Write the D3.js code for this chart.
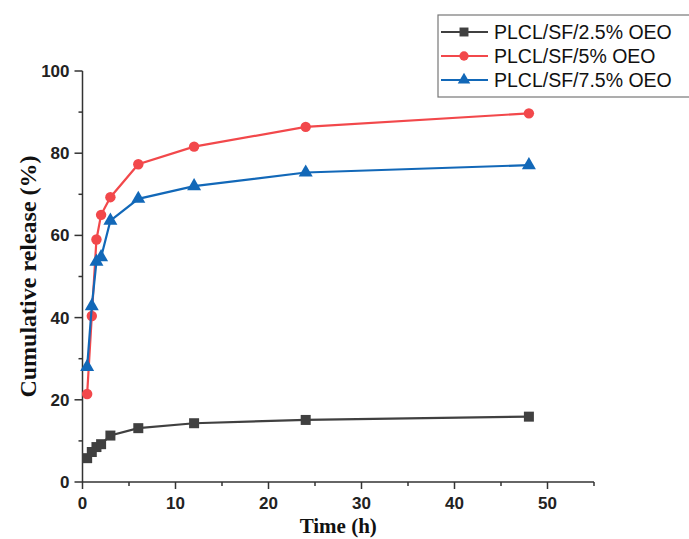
<!DOCTYPE html>
<html>
<head>
<meta charset="utf-8">
<script src="https://cdn.jsdelivr.net/npm/d3@7"></script>
<style>
  body { margin: 0; background: #fff; }
  svg { display: block; }
</style>
</head>
<body>
<div id="chart"></div>
<script>
const times = [0.5, 1, 1.5, 2, 3, 6, 12, 24, 48];
const oeo25 = [5.8, 7.3, 8.5, 9.2, 11.3, 13.1, 14.3, 15.1, 15.9];
const oeo5 = [21.4, 40.4, 59, 65, 69.3, 77.3, 81.6, 86.4, 89.7];
const oeo75 = [28, 42.8, 53.6, 54.7, 63.6, 68.9, 72, 75.3, 77.1];
const seriesNames = ["PLCL/SF/2.5% OEO", "PLCL/SF/5% OEO", "PLCL/SF/7.5% OEO"];
const xTicks = [0, 10, 20, 30, 40, 50];
const yTicks = [0, 20, 40, 60, 80, 100];

const W = 689, H = 539;
const svg = d3.select("#chart").append("svg").attr("width", W).attr("height", H);

const x = d3.scaleLinear().domain([0, 55]).range([82.5, 594]);
const y = d3.scaleLinear().domain([0, 100]).range([482, 71]);

const series = [
  { name: seriesNames[0], vals: oeo25, color: "#404040", shape: d3.symbolSquare, size: 100 },
  { name: seriesNames[1], vals: oeo5, color: "#f2484b", shape: d3.symbolCircle, size: 85 },
  { name: seriesNames[2], vals: oeo75, color: "#1268b8", shape: d3.symbolTriangle, size: 85 }
];

// axes
const xAxis = svg.append("g").attr("transform", `translate(0,${y(0)})`);
xAxis.append("line").attr("x1", x(0)).attr("x2", x(55)).attr("stroke", "#333").attr("stroke-width", 1.5);
xAxis.selectAll(".maj").data(xTicks).join("line")
  .attr("x1", d => x(d)).attr("x2", d => x(d)).attr("y1", 0).attr("y2", 7)
  .attr("stroke", "#333").attr("stroke-width", 1.5);
xAxis.selectAll(".min").data([5, 15, 25, 35, 45, 55]).join("line")
  .attr("x1", d => x(d)).attr("x2", d => x(d)).attr("y1", 0).attr("y2", 4)
  .attr("stroke", "#333").attr("stroke-width", 1.5);
xAxis.selectAll("text").data(xTicks).join("text")
  .attr("x", d => x(d)).attr("y", 27).attr("text-anchor", "middle")
  .attr("font-family", "Liberation Sans, Arial, sans-serif").attr("font-weight", "bold")
  .attr("font-size", 17).attr("fill", "#222").text(d => d);

const yAxis = svg.append("g").attr("transform", `translate(${x(0)},0)`);
yAxis.append("line").attr("y1", y(0)).attr("y2", y(100)).attr("stroke", "#333").attr("stroke-width", 1.5);
yAxis.selectAll(".maj").data(yTicks).join("line")
  .attr("y1", d => y(d)).attr("y2", d => y(d)).attr("x1", 0).attr("x2", -8)
  .attr("stroke", "#333").attr("stroke-width", 1.5);
yAxis.selectAll(".min").data([10, 30, 50, 70, 90]).join("line")
  .attr("y1", d => y(d)).attr("y2", d => y(d)).attr("x1", 0).attr("x2", -4)
  .attr("stroke", "#333").attr("stroke-width", 1.5);
yAxis.selectAll("text").data(yTicks).join("text")
  .attr("x", -13).attr("y", d => y(d) + 6).attr("text-anchor", "end")
  .attr("font-family", "Liberation Sans, Arial, sans-serif").attr("font-weight", "bold")
  .attr("font-size", 17).attr("fill", "#222").text(d => d);

// axis titles
svg.append("text").attr("x", (x(0) + x(55)) / 2).attr("y", 533).attr("text-anchor", "middle")
  .attr("font-family", "Liberation Serif, Times New Roman, serif").attr("font-weight", "bold")
  .attr("font-size", 21).attr("fill", "#111").text("Time (h)");
svg.append("text").attr("transform", `translate(36,${(y(0) + y(100)) / 2}) rotate(-90)`)
  .attr("text-anchor", "middle")
  .attr("font-family", "Liberation Serif, Times New Roman, serif").attr("font-weight", "bold")
  .attr("font-size", 24).attr("fill", "#111").text("Cumulative release (%)");

// lines + markers
const line = d3.line().x((d, i) => x(times[i])).y(d => y(d));
series.forEach(s => {
  svg.append("path").datum(s.vals).attr("d", line)
    .attr("fill", "none").attr("stroke", s.color).attr("stroke-width", 2.2);
  svg.selectAll(null).data(s.vals).join("path")
    .attr("transform", (d, i) => `translate(${x(times[i])},${y(d)})`)
    .attr("d", d3.symbol().type(s.shape).size(s.size))
    .attr("fill", s.color);
});

// legend
const lg = svg.append("g");
lg.append("rect").attr("x", 438).attr("y", 15).attr("width", 260).attr("height", 82)
  .attr("fill", "#fff").attr("stroke", "#777").attr("stroke-width", 1.2);
series.forEach((s, i) => {
  const ly = 32 + i * 24;
  lg.append("line").attr("x1", 441).attr("x2", 488).attr("y1", ly).attr("y2", ly)
    .attr("stroke", s.color).attr("stroke-width", 2.2);
  lg.append("path").attr("transform", `translate(464,${ly})`)
    .attr("d", d3.symbol().type(s.shape).size(s.size * 0.8)).attr("fill", s.color);
  lg.append("text").attr("x", 494).attr("y", ly + 7)
    .attr("font-family", "Liberation Sans, Arial, sans-serif").attr("font-size", 19.5)
    .attr("fill", "#111").text(s.name);
});
</script>
</body>
</html>
